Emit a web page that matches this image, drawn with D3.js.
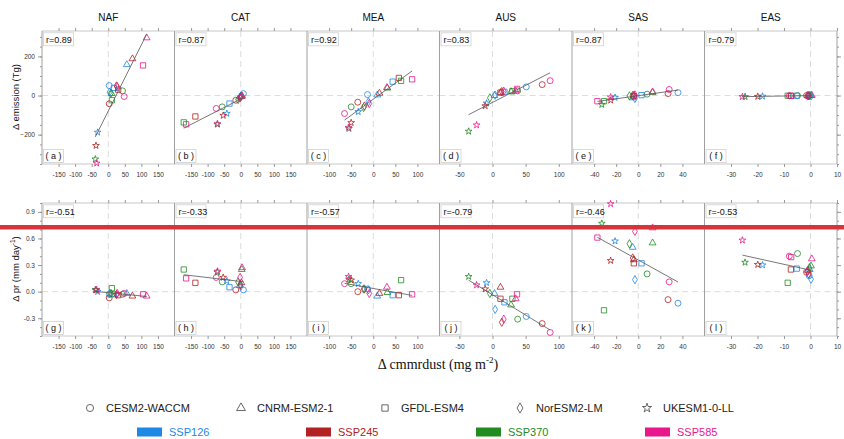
<!DOCTYPE html>
<html><head><meta charset="utf-8">
<script src="https://cdn.jsdelivr.net/npm/d3@7"></script>
<style>body{margin:0;background:#fff} svg{display:block;font-family:"Liberation Sans",Arial,Helvetica,sans-serif}</style>
</head><body><svg id="c" width="844" height="439"></svg>
<script>
const regions = ["NAF","CAT","MEA","AUS","SAS","EAS"];
const models = ["CESM2-WACCM","CNRM-ESM2-1","GFDL-ESM4","NorESM2-LM","UKESM1-0-LL"];
const scenarios = ["SSP126","SSP245","SSP370","SSP585"];
const scenarioColors = ["#1e88e5","#b22222","#228b22","#e8178c"];
// order of every array: model-major (5 models), 4 scenarios each
const NAF_dust = [3,3,43,48, 56,73,10,116, 17,30,11,105, 4,25,8,27, -32,-37,-39,-35];
const NAF_emis = [51,-42,24,-5, 158,188,10,295, 39,30,-24,154, 17,49,12,45, -188,-256,-325,-346];
const NAF_pr   = [-0.03,-0.07,-0.03,-0.02, -0.02,-0.05,-0.03,-0.05, -0.03,-0.04,0.04,-0.03, -0.02,-0.03,-0.02,-0.02, 0.0,0.02,0.02,0.02];
const CAT_dust = [8,-15,-56,-74, -3,2,3,4, -34,-137,-172,-165, 0,-1,-8,-2, -42,-53,-71,-70];
const CAT_emis = [10,-24,-58,-66, -8,-5,-3,-2, -41,-107,-137,-147, -5,-8,-20,-12, -92,-102,-147,-145];
const CAT_pr   = [0.02,0.02,0.11,0.16, 0.07,0.10,0.25,0.27, 0.05,0.10,0.25,0.15, 0.06,0.08,0.11,0.16, 0.12,0.16,0.22,0.23];
const MEA_dust = [-13,-35,-50,-65, 9,14,32,31, 44,58,63,88, -11,-20,-22,-9, -34,-50,-55,-56];
const MEA_emis = [5,-34,-58,-92, 3,12,38,41, 71,90,75,83, -32,-54,-61,-41, -83,-139,-169,-163];
const MEA_pr   = [0.03,0.0,0.09,0.09, -0.05,-0.02,-0.01,0.05, -0.04,-0.04,0.13,-0.03, 0.02,0.03,0.03,-0.02, 0.09,0.13,0.14,0.17];
const AUS_dust = [51,75,38,87, 3,12,28,35, 18,12,30,37, 4,14,-4,17, -9,-11,-36,-24];
const AUS_emis = [44,56,24,76, 0,15,20,24, 19,15,22,34, 2,20,-12,22, -39,-53,-183,-151];
const AUS_pr   = [-0.28,-0.36,-0.31,-0.46, -0.02,0.05,-0.15,-0.08, -0.12,-0.08,-0.08,-0.03, -0.20,-0.345,-0.02,-0.31, 0.10,0.03,0.17,0.075];
const SAS_dust = [36,27,8,28, -5,-4,13,13, 3,-4,-31,-37, -3,-5,-8,-3, -21,-25,-33,-25];
const SAS_emis = [15,10,7,31, -12,2,15,19, 2,-3,-29,-29, -15,0,-2,3, -10,-24,-46,-8];
const SAS_pr   = [-0.13,-0.09,0.20,0.11, 0.50,0.36,0.55,0.72, 0.32,0.32,-0.21,0.61, 0.135,0.38,0.54,0.68, 0.57,0.35,0.77,0.99];
const EAS_dust = [-0.5,-1.5,-4.9,-8.0, -0.3,-1.0,0.2,0.5, -5.2,-7.4,-8.6,-7.3, 0.2,-0.7,-0.4,-1.2, -18.1,-19.9,-24.7,-25.7];
const EAS_emis = [-1,0,0,-1, -1,0,0,1, -1,-1,-1,-2, -2,-1,-1,-1, -4,-5,-6,-6];
const EAS_pr   = [0.18,0.22,0.43,0.40, 0.25,0.24,0.29,0.37, 0.26,0.25,0.10,0.39, 0.14,0.20,0.27,0.23, 0.30,0.305,0.33,0.58];
const rTop = ["0.89","0.87","0.92","0.83","0.87","0.79"];
const rBot = ["-0.51","-0.33","-0.57","-0.79","-0.46","-0.53"];
const lettersTop = ["a","b","c","d","e","f"];
const lettersBot = ["g","h","i","j","k","l"];
const xDomains = [[-200,200],[-200,200],[-150,150],[-80,120],[-60,60],[-40,10]];
const xTicks = [[-150,-100,-50,0,50,100,150],[-150,-100,-50,0,50,100,150],[-100,-50,0,50,100],[-50,0,50,100],[-40,-20,0,20,40],[-30,-20,-10,0,10]];
const yTopTicks = [-200,0,200];
const yBotTicks = [-0.3,0.0,0.3,0.6,0.9];

const dust = [NAF_dust,CAT_dust,MEA_dust,AUS_dust,SAS_dust,EAS_dust];
const emis = [NAF_emis,CAT_emis,MEA_emis,AUS_emis,SAS_emis,EAS_emis];
const prs  = [NAF_pr,CAT_pr,MEA_pr,AUS_pr,SAS_pr,EAS_pr];

const svg = d3.select("#c");
const shapeTypes = [d3.symbolCircle,d3.symbolTriangle,d3.symbolSquare,d3.symbolDiamond,d3.symbolStar];
const shapeSizes = [28,20,28,20,14];

const L0 = 42, PW = 132.5;
const rows = [
  {top:31, bottom:164, domain:[-350,330], vals:emis, ticks:yTopTicks, minorStep:50, fmt:d=>d3.format("d")(d), r:rTop, letters:lettersTop},
  {top:203, bottom:336, domain:[-0.5,1.0], vals:prs, ticks:yBotTicks, minorStep:0.1, fmt:d=>d.toFixed(1), r:rBot, letters:lettersBot}
];
const gridCol = "#dcdcdc", frameCol = "#a0a0a0";

rows.forEach((row, ri) => {
  const y = d3.scaleLinear().domain(row.domain).range([row.bottom,row.top]);
  regions.forEach((reg, i) => {
    const x0 = L0 + i*PW;
    const x = d3.scaleLinear().domain(xDomains[i]).range([x0, x0+PW]);
    const g = svg.append("g");
    g.append("line").attr("x1",x(0)).attr("x2",x(0)).attr("y1",row.top).attr("y2",row.bottom)
      .attr("stroke",gridCol).attr("stroke-width",1).attr("stroke-dasharray","6,4");
    g.append("line").attr("x1",x0).attr("x2",x0+PW).attr("y1",y(0)).attr("y2",y(0))
      .attr("stroke",gridCol).attr("stroke-width",1).attr("stroke-dasharray","6,4");
    g.append("line").attr("x1",x0).attr("x2",x0+PW).attr("y1",row.top).attr("y2",row.top).attr("stroke","#c8c8c8");
    g.append("line").attr("x1",x0).attr("x2",x0+PW).attr("y1",row.bottom).attr("y2",row.bottom).attr("stroke","#c8c8c8");
    g.append("line").attr("x1",x0).attr("x2",x0).attr("y1",row.top).attr("y2",row.bottom).attr("stroke",frameCol);
    if (i===5) g.append("line").attr("x1",x0+PW).attr("x2",x0+PW).attr("y1",row.top).attr("y2",row.bottom).attr("stroke",frameCol);
    const axB = d3.axisBottom(x).tickValues(xTicks[i]).tickSize(3).tickSizeOuter(0).tickFormat(d=>d);
    const gb = g.append("g").attr("transform",`translate(0,${row.bottom})`).call(axB);
    gb.select(".domain").remove();
    gb.selectAll("line").attr("stroke","#999");
    gb.selectAll("text").attr("font-size",6.5).attr("fill","#333").attr("dy","1.1em")
      .style("font-family","'Liberation Sans', Arial, sans-serif");
    const axT = d3.axisTop(x).tickValues(xTicks[i]).tickSize(3).tickSizeOuter(0).tickFormat("");
    const gt = g.append("g").attr("transform",`translate(0,${row.top})`).call(axT);
    gt.select(".domain").remove();
    gt.selectAll("line").attr("stroke","#999");
    const xs = dust[i], ys = row.vals[i];
    const pts = xs.map((v,k)=>({x:v, y:ys[k], m:Math.floor(k/4), s:k%4}));
    g.selectAll("path.pt").data(pts).join("path").attr("class","pt")
      .attr("d", d=>d3.symbol().type(shapeTypes[d.m]).size(shapeSizes[d.m])())
      .attr("transform", d=>`translate(${x(d.x)},${y(d.y)})`)
      .attr("fill","none").attr("stroke",d=>scenarioColors[d.s]).attr("stroke-width",0.8);
    const mx = d3.mean(xs), my = d3.mean(ys);
    let sxy=0, sxx=0;
    xs.forEach((v,k)=>{sxy+=(v-mx)*(ys[k]-my); sxx+=(v-mx)*(v-mx);});
    const b = sxy/sxx, a = my - b*mx;
    const [xmn,xmx] = d3.extent(xs);
    g.append("line").attr("x1",x(xmn)).attr("x2",x(xmx)).attr("y1",y(a+b*xmn)).attr("y2",y(a+b*xmx))
      .attr("stroke","#555").attr("stroke-width",0.8);
    g.append("rect").attr("x",x0+1.5).attr("y",row.top+1.8).attr("width",30).attr("height",13)
      .attr("fill","#fff").attr("stroke","#d0d0d0").attr("stroke-width",0.8);
    g.append("text").attr("x",x0+4).attr("y",row.top+11.8).attr("font-size",9).attr("fill","#111")
      .text("r="+row.r[i]);
    g.append("rect").attr("x",x0+1.5).attr("y",row.bottom-14.5).attr("width",20).attr("height",13)
      .attr("fill","#fff").attr("stroke","#d0d0d0").attr("stroke-width",0.8);
    g.append("text").attr("x",x0+11.5).attr("y",row.bottom-4.8).attr("text-anchor","middle")
      .attr("font-size",9).attr("fill","#111").text("( "+row.letters[i]+" )");
    if (ri===0) {
      svg.append("text").attr("x",x0+PW/2).attr("y",21).attr("text-anchor","middle")
        .attr("font-size",10).attr("fill","#111").text(reg);
    }
  });
  const minor = d3.range(Math.ceil(row.domain[0]/row.minorStep)*row.minorStep, row.domain[1]+1e-9, row.minorStep)
    .map(v=>+v.toFixed(4));
  const axL = d3.axisLeft(y).tickValues(row.ticks).tickSize(4).tickSizeOuter(0).tickFormat(row.fmt);
  const gl = svg.append("g").attr("transform",`translate(${L0},0)`).call(axL);
  gl.select(".domain").remove();
  gl.selectAll("line").attr("stroke","#999");
  gl.selectAll("text").attr("font-size",6.5).attr("fill","#333").style("font-family","'Liberation Sans', Arial, sans-serif");
  const axLm = d3.axisLeft(y).tickValues(minor).tickSize(2).tickFormat("");
  const glm = svg.append("g").attr("transform",`translate(${L0},0)`).call(axLm);
  glm.select(".domain").remove(); glm.selectAll("line").attr("stroke","#999");
  const xr = L0 + 6*PW;
  const axR = d3.axisRight(y).tickValues(row.ticks).tickSize(4).tickFormat("");
  const gr = svg.append("g").attr("transform",`translate(${xr},0)`).call(axR);
  gr.select(".domain").remove(); gr.selectAll("line").attr("stroke","#999");
  const axRm = d3.axisRight(y).tickValues(minor).tickSize(2).tickFormat("");
  const grm = svg.append("g").attr("transform",`translate(${xr},0)`).call(axRm);
  grm.select(".domain").remove(); grm.selectAll("line").attr("stroke","#999");
});

svg.append("text").attr("transform","translate(19,97) rotate(-90)").attr("text-anchor","middle")
  .attr("font-size",9.5).attr("fill","#111").text("\u0394 emission (Tg)");
const yt2 = svg.append("text").attr("transform","translate(19,269) rotate(-90)").attr("text-anchor","middle")
  .attr("font-size",9.5).attr("fill","#111");
yt2.append("tspan").text("\u0394 pr (mm day");
yt2.append("tspan").attr("font-size",6.5).attr("dy",-4).text("-1");
yt2.append("tspan").attr("dy",4).text(")");

const xt = svg.append("text").attr("x",438).attr("y",369).attr("text-anchor","middle")
  .attr("font-size",14).attr("fill","#111").style("font-family","'Liberation Serif','Times New Roman',serif");
xt.append("tspan").text("\u0394 cmmrdust (mg m");
xt.append("tspan").attr("font-size",9).attr("dy",-6).text("-2");
xt.append("tspan").attr("dy",6).text(")");

svg.append("rect").attr("x",0).attr("y",225).attr("width",844).attr("height",4.5).attr("fill","#d6343a");

const legSymX = [90,241,385,520,647];
const legSizes = [40,34,40,30,26];
models.forEach((m,k)=>{
  svg.append("path").attr("d",d3.symbol().type(shapeTypes[k]).size(legSizes[k])())
    .attr("transform",`translate(${legSymX[k]},408)`).attr("fill","none").attr("stroke","#444").attr("stroke-width",0.8);
  svg.append("text").attr("x",legSymX[k]+16).attr("y",412).attr("font-size",11).attr("fill","#222").text(m);
});
const legRectX = [137,306,476,645];
scenarios.forEach((s,k)=>{
  svg.append("rect").attr("x",legRectX[k]).attr("y",427.5).attr("width",25).attr("height",9).attr("fill",scenarioColors[k]);
  svg.append("text").attr("x",legRectX[k]+32).attr("y",436).attr("font-size",11).attr("fill",scenarioColors[k]).text(s);
});
</script></body></html>
